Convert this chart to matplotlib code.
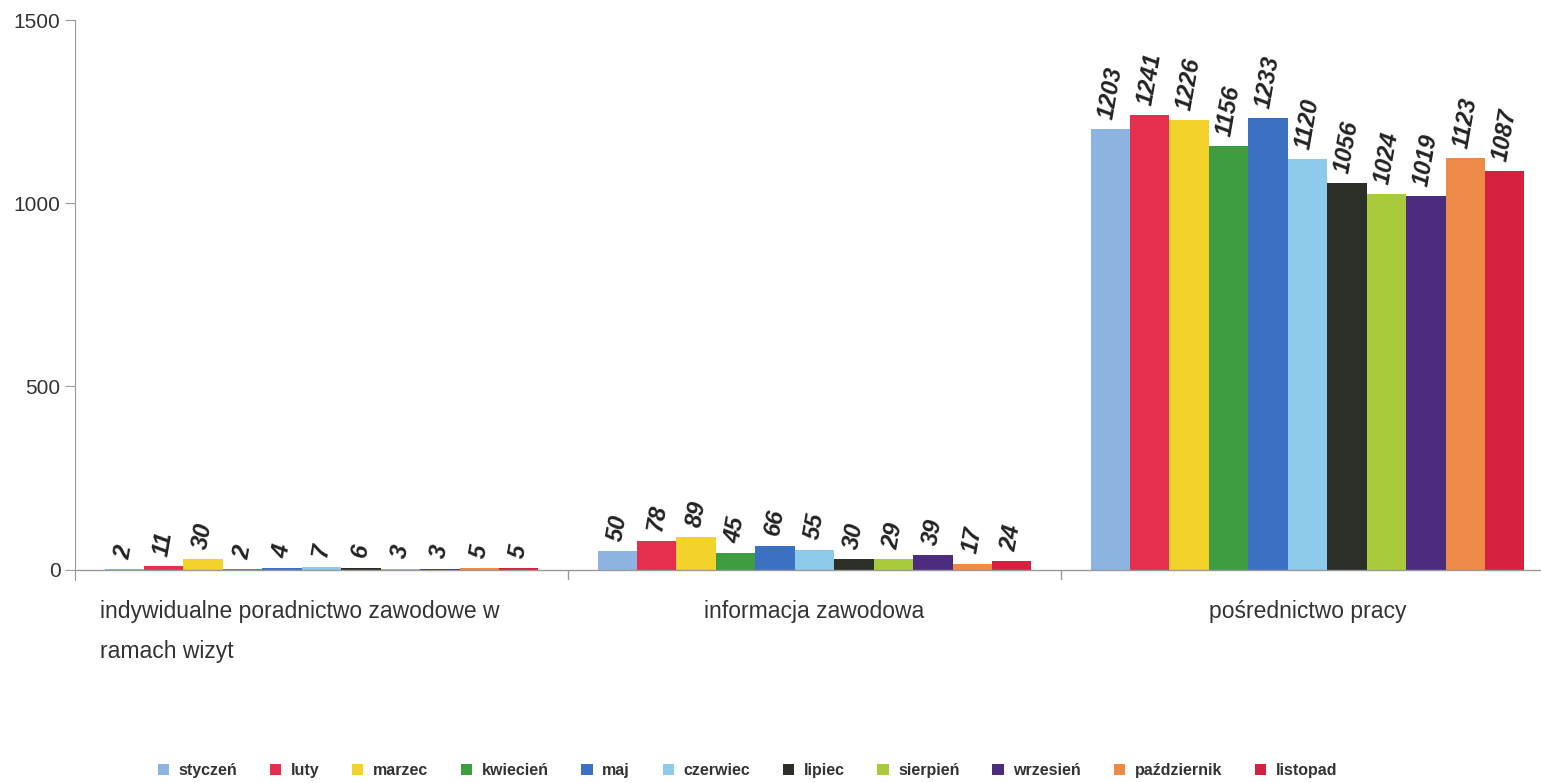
import numpy as np
import matplotlib.pyplot as plt

kategorie = ["indywidualne poradnictwo zawodowe w\nramach wizyt",
             "informacja zawodowa",
             "pośrednictwo pracy"]
miesiace = ["styczeń", "luty", "marzec", "kwiecień", "maj", "czerwiec",
            "lipiec", "sierpień", "wrzesień", "październik", "listopad"]

# wartosci: [indywidualne, informacja, posrednictwo] dla kazdego miesiaca
styczen = [2, 50, 1203]
luty = [11, 78, 1241]
marzec = [30, 89, 1226]
kwiecien = [2, 45, 1156]
maj = [4, 66, 1233]
czerwiec = [7, 55, 1120]
lipiec = [6, 30, 1056]
sierpien = [3, 29, 1024]
wrzesien = [3, 39, 1019]
pazdziernik = [5, 17, 1123]
listopad = [5, 24, 1087]
serie = [styczen, luty, marzec, kwiecien, maj, czerwiec,
         lipiec, sierpien, wrzesien, pazdziernik, listopad]

kolory = ["#8db3e0", "#e62e4e", "#f4d22c", "#3d9d40", "#3b70c2", "#8ecbea",
          "#2b2f27", "#a9cb3b", "#4b2c7f", "#ee8a47", "#d6203f"]

plt.rcParams['font.family'] = ['Liberation Sans', 'DejaVu Sans']

fig = plt.figure(figsize=(15.41, 7.83), dpi=100)
ax = fig.add_axes([75 / 1541, 203 / 783, 1479 / 1541, 560 / 783])

n = len(serie)
szer = 0.88 / n
x = np.arange(len(kategorie)) + 0.5

for i, (dane, kol, nazwa) in enumerate(zip(serie, kolory, miesiace)):
    poz = x - 0.44 + szer * (i + 0.5)
    ax.bar(poz, dane, width=szer, color=kol, label=nazwa)
    for xp, v in zip(poz, dane):
        ax.annotate(str(v), (xp, v), xytext=(0, 6), textcoords="offset points",
                    ha="center", va="bottom", rotation=80, fontsize=17,
                    fontweight="bold", fontstyle="italic", color="#222222")

ax.set_xlim(0, 3)
ax.set_ylim(-28, 1500)
ax.set_yticks([0, 500, 1000, 1500])
ax.tick_params(axis="y", labelsize=15, colors="#333333", length=7, color="#999999")
ax.set_xticks([])
for s in ["top", "right", "bottom"]:
    ax.spines[s].set_visible(False)
ax.spines["left"].set_color("#999999")
ax.axhline(0, color="#999999", lw=1)
ax.vlines([1, 2], -28, 0, color="#999999", lw=1)

for xi, k in zip(x, kategorie):
    ax.text(xi - (0.045 if "\n" in k else 0), -0.035, k, transform=ax.get_xaxis_transform(),
            ha="center", va="top", multialignment="left", fontsize=16.5,
            color="#333333", linespacing=1.95)

leg = fig.legend(loc="lower center", bbox_to_anchor=(0.485, -0.012), ncol=n,
                 frameon=False, fontsize=11.5, handlelength=0.7, handleheight=0.7,
                 columnspacing=2.05, handletextpad=0.6)
for t in leg.get_texts():
    t.set_fontweight("bold")
    t.set_color("#333333")

fig.savefig("out.png", dpi=100)
